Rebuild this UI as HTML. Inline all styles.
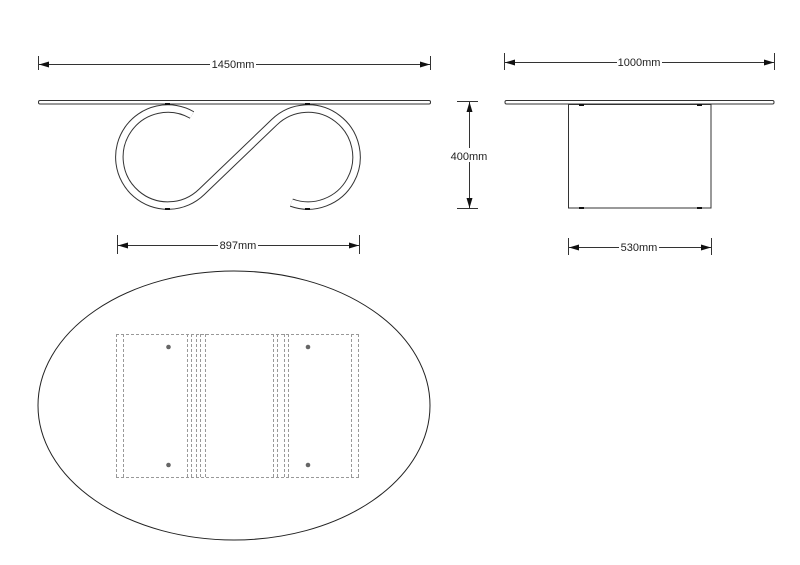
<!DOCTYPE html>
<html><head><meta charset="utf-8"><style>
html,body{margin:0;padding:0;background:#fff;}
svg{display:block;}
text{font-family:"Liberation Sans",Arial,sans-serif;font-size:11px;fill:#222;}
</style></head><body>
<svg width="800" height="565" viewBox="0 0 800 565" xmlns="http://www.w3.org/2000/svg">
<defs>
<marker id="ar" viewBox="0 0 10 6" refX="10" refY="3" markerWidth="10" markerHeight="6" orient="auto-start-reverse" markerUnits="userSpaceOnUse">
<path d="M0,0 L10,3 L0,6 Z" fill="#111"/>
</marker>
</defs>
<g stroke="#333" stroke-width="1" fill="none">
<!-- 1450 dim -->
<line x1="38.5" y1="56" x2="38.5" y2="70"/>
<line x1="430.5" y1="56" x2="430.5" y2="70"/>
<line x1="39" y1="64.5" x2="210" y2="64.5" marker-start="url(#ar)"/>
<line x1="256" y1="64.5" x2="430" y2="64.5" marker-end="url(#ar)"/>
<!-- tabletop left -->
<rect x="38.5" y="100.5" width="392" height="3.5" rx="1.5" fill="#fff"/>
</g>
<text x="233" y="68" text-anchor="middle">1450mm</text>
<!-- S shape -->
<path d="M192,115 A48.5,48.5 0 1 0 201.6,191.9 L274.4,122.1 A48.5,48.5 0 1 1 291.4,202.6" fill="none" stroke="#333" stroke-width="8.5"/>
<path d="M192,115 A48.5,48.5 0 1 0 201.6,191.9 L274.4,122.1 A48.5,48.5 0 1 1 291.4,202.6" fill="none" stroke="#fff" stroke-width="6.5"/>
<g fill="#111">
<rect x="165" y="103" width="5" height="2"/><rect x="305" y="103" width="5" height="2"/>
<rect x="165" y="208" width="5" height="2"/><rect x="305" y="208" width="5" height="2"/>
</g>
<g stroke="#333" stroke-width="1" fill="none">
<!-- 897 dim -->
<line x1="117.5" y1="235" x2="117.5" y2="254"/>
<line x1="359.5" y1="235" x2="359.5" y2="254"/>
<line x1="118" y1="245.5" x2="218" y2="245.5" marker-start="url(#ar)"/>
<line x1="258" y1="245.5" x2="359" y2="245.5" marker-end="url(#ar)"/>
<!-- 1000 dim -->
<line x1="504.5" y1="53" x2="504.5" y2="70"/>
<line x1="774.5" y1="53" x2="774.5" y2="70"/>
<line x1="505" y1="62.5" x2="617" y2="62.5" marker-start="url(#ar)"/>
<line x1="662" y1="62.5" x2="774" y2="62.5" marker-end="url(#ar)"/>
<!-- right tabletop and leg -->
<rect x="505" y="100.5" width="269" height="3.5" rx="1.5" fill="#fff"/>
<rect x="568.5" y="104.5" width="142.5" height="103.5"/>
<!-- 400 dim -->
<line x1="457" y1="101.5" x2="478" y2="101.5"/>
<line x1="457" y1="208.5" x2="478" y2="208.5"/>
<line x1="469.5" y1="102" x2="469.5" y2="148" marker-start="url(#ar)"/>
<line x1="469.5" y1="162" x2="469.5" y2="208" marker-end="url(#ar)"/>
<!-- 530 dim -->
<line x1="568.5" y1="238" x2="568.5" y2="255"/>
<line x1="711.5" y1="238" x2="711.5" y2="255"/>
<line x1="569" y1="247.5" x2="619" y2="247.5" marker-start="url(#ar)"/>
<line x1="659" y1="247.5" x2="711" y2="247.5" marker-end="url(#ar)"/>
<!-- ellipse -->
<ellipse cx="234" cy="405.5" rx="196" ry="134.5" stroke="#222"/>
</g>
<g fill="#111">
<rect x="579" y="104" width="5" height="2"/><rect x="697" y="104" width="5" height="2"/>
<rect x="579" y="207" width="5" height="2"/><rect x="697" y="207" width="5" height="2"/>
</g>
<text x="639" y="66" text-anchor="middle">1000mm</text>
<text x="238" y="249" text-anchor="middle">897mm</text>
<text x="469" y="160" text-anchor="middle">400mm</text>
<text x="639" y="251" text-anchor="middle">530mm</text>
<!-- plan dashed -->
<g stroke="#999" stroke-width="1" stroke-dasharray="3,2" fill="none">
<line x1="116" y1="334.5" x2="359" y2="334.5"/>
<line x1="116" y1="477.5" x2="359" y2="477.5"/>
<line x1="116.5" y1="334" x2="116.5" y2="478"/>
<line x1="123.5" y1="334" x2="123.5" y2="478"/>
<line x1="187.5" y1="334" x2="187.5" y2="478"/>
<line x1="191.5" y1="334" x2="191.5" y2="478"/>
<line x1="196.5" y1="334" x2="196.5" y2="478"/>
<line x1="200.5" y1="334" x2="200.5" y2="478"/>
<line x1="205.5" y1="334" x2="205.5" y2="478"/>
<line x1="273.5" y1="334" x2="273.5" y2="478"/>
<line x1="277.5" y1="334" x2="277.5" y2="478"/>
<line x1="284.5" y1="334" x2="284.5" y2="478"/>
<line x1="288.5" y1="334" x2="288.5" y2="478"/>
<line x1="351.5" y1="334" x2="351.5" y2="478"/>
<line x1="358.5" y1="334" x2="358.5" y2="478"/>
</g>
<g fill="#666">
<circle cx="168.5" cy="347" r="2.3"/><circle cx="168.5" cy="465" r="2.3"/>
<circle cx="308" cy="347" r="2.3"/><circle cx="308" cy="465" r="2.3"/>
</g>
</svg>
</body></html>
